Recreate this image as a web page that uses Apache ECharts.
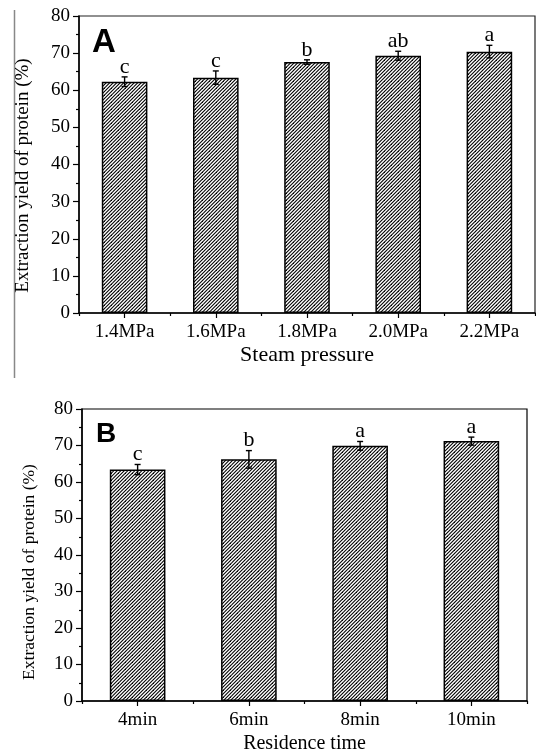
<!DOCTYPE html>
<html>
<head>
<meta charset="utf-8">
<script src="https://cdn.jsdelivr.net/npm/echarts@6/dist/echarts.min.js"></script>
<style>html,body{margin:0;padding:0;background:#fff}#c{width:536px;height:755px}</style>
</head>
<body>
<div id="c"></div>
<script>
// ---- data ----
const catsA = ['1.4MPa', '1.6MPa', '1.8MPa', '2.0MPa', '2.2MPa'];
const meanA = [62.3, 63.4, 67.6, 69.3, 70.4];
const errA  = [1.3, 1.8, 0.6, 1.2, 1.7];
const sigA  = ['c', 'c', 'b', 'ab', 'a'];

const catsB = ['4min', '6min', '8min', '10min'];
const meanB = [63.4, 66.2, 69.9, 71.2];
const errB  = [1.4, 2.4, 1.2, 1.1];
const sigB  = ['c', 'b', 'a', 'a'];

const yMin = 0, yMax = 80, yStep = 10;

const titleA = 'Steam pressure';
const titleB = 'Residence time';
const yTitle = 'Extraction yield of protein (%)';

// ---- hatch pattern ----
function hatch() {
  const s = 7;
  const c = document.createElement('canvas');
  c.width = s; c.height = s;
  const g = c.getContext('2d');
  g.fillStyle = '#fff'; g.fillRect(0, 0, s, s);
  g.strokeStyle = '#000'; g.lineWidth = 1.1;
  [0, 3.5, 7, 10.5, 14].forEach(k => {
    g.beginPath();
    g.moveTo(-3, k + 3);
    g.lineTo(s + 3, k - s - 3);
    g.stroke();
  });
  return c;
}
const pat = { image: hatch(), repeat: 'repeat' };

const serif = '"Liberation Serif", "Times New Roman", serif';

const chart = echarts.init(document.getElementById('c'), null, { renderer: 'canvas' });

function yAxisCfg(grid, gap, size, shift) {
  return {
    type: 'value', gridIndex: grid, min: yMin, max: yMax, interval: yStep,
    name: yTitle, nameLocation: 'middle', nameRotate: 90, nameGap: gap,
    nameTextStyle: { fontFamily: serif, fontSize: size, color: '#000', padding: [0, shift, 0, 0] },
    axisLine: { show: true, lineStyle: { color: '#000', width: 1.5 } },
    axisTick: { show: true, inside: false, length: 6, lineStyle: { color: '#000', width: 1.2 } },
    minorTick: { show: true, splitNumber: 2, length: 3, lineStyle: { color: '#000', width: 1.2 } },
    axisLabel: { fontFamily: serif, fontSize: 19, color: '#000', margin: 9 },
    splitLine: { show: false }
  };
}
function xAxisCfg(grid, cats, title, size, gap) {
  return {
    type: 'category', gridIndex: grid, data: cats,
    name: title, nameLocation: 'middle', nameGap: gap,
    nameTextStyle: { fontFamily: serif, fontSize: size, color: '#000' },
    axisLine: { show: true, onZero: false, lineStyle: { color: '#000', width: 1.5 } },
    axisTick: { show: true, alignWithLabel: true, length: 5, lineStyle: { color: '#000', width: 1.2 } },
    axisLabel: { fontFamily: serif, fontSize: 19, color: '#000', margin: 10 },
    splitLine: { show: false }
  };
}
function xBoundCfg(grid, cats) {
  return {
    type: 'category', gridIndex: grid, data: cats, position: 'bottom',
    axisLine: { show: false },
    axisTick: { show: true, length: 3, lineStyle: { color: '#000', width: 1.2 } },
    axisLabel: { show: false }, splitLine: { show: false }
  };
}

function errSeries(xIdx, yIdx, means, errs, sigs) {
  return {
    type: 'custom', xAxisIndex: xIdx, yAxisIndex: yIdx, z: 10,
    data: means.map((m, i) => [i, m, errs[i]]),
    renderItem: function (params, api) {
      const i = api.value(0), m = api.value(1), e = api.value(2);
      const top = api.coord([i, m + e]);
      const bot = api.coord([i, m - e]);
      const hw = 3;
      const st = { stroke: '#000', lineWidth: 1.4 };
      return {
        type: 'group',
        children: [
          { type: 'line', shape: { x1: top[0], y1: top[1], x2: bot[0], y2: bot[1] }, style: st },
          { type: 'line', shape: { x1: top[0] - hw, y1: top[1], x2: top[0] + hw, y2: top[1] }, style: st },
          { type: 'line', shape: { x1: bot[0] - hw, y1: bot[1], x2: bot[0] + hw, y2: bot[1] }, style: st },
          { type: 'text', x: top[0], y: top[1] + 1,
            style: { text: sigs[params.dataIndex], fill: '#000', fontFamily: serif, fontSize: 22,
                     align: 'center', verticalAlign: 'bottom' } }
        ]
      };
    }
  };
}

const option = {
  animation: false,
  backgroundColor: '#fff',
  grid: [
    { left: 79, top: 16, right: 1, bottom: 442, show: true, borderColor: '#222', borderWidth: 1.2, containLabel: false },
    { left: 82, top: 409, right: 9, bottom: 48, show: true, borderColor: '#000', borderWidth: 1.2, containLabel: false }
  ],
  xAxis: [
    xAxisCfg(0, catsA, titleA, 22, 31),
    xBoundCfg(0, catsA),
    xAxisCfg(1, catsB, titleB, 20, 33),
    xBoundCfg(1, catsB)
  ],
  yAxis: [ yAxisCfg(0, 46, 19, 22), yAxisCfg(1, 44, 17.5, 34) ],
  series: [
    { type: 'bar', xAxisIndex: 0, yAxisIndex: 0, data: meanA, barWidth: '50%',
      itemStyle: { color: pat, borderColor: '#000', borderWidth: 1.5 } },
    errSeries(0, 0, meanA, errA, sigA),
    { type: 'bar', xAxisIndex: 2, yAxisIndex: 1, data: meanB, barWidth: '50%',
      itemStyle: { color: pat, borderColor: '#000', borderWidth: 1.5 } },
    errSeries(2, 1, meanB, errB, sigB)
  ],
  graphic: [
    { type: 'line', shape: { x1: 14.5, y1: 10, x2: 14.5, y2: 378 }, style: { stroke: '#888', lineWidth: 1.5 } },
    { type: 'text', left: 92, top: 26, style: { text: 'A', fontFamily: '"Liberation Sans", Arial, sans-serif', fontWeight: 'bold', fontSize: 33, fill: '#000' } },
    { type: 'text', left: 96, top: 420, style: { text: 'B', fontFamily: '"Liberation Sans", Arial, sans-serif', fontWeight: 'bold', fontSize: 28, fill: '#000' } }
  ]
};
chart.setOption(option);
</script>
</body>
</html>
